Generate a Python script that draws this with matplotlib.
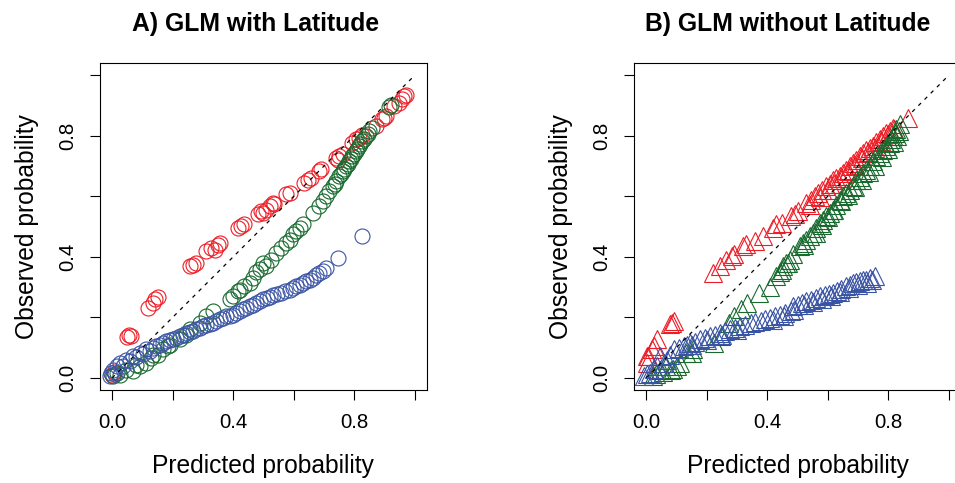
import matplotlib
matplotlib.use('Agg')
import matplotlib.pyplot as plt

params = {'font.family': 'Liberation Sans',
          'axes.linewidth': 0.8,
          'xtick.major.width': 0.8,
          'ytick.major.width': 0.8,
          'xtick.major.size': 7.5,
          'ytick.major.size': 7.5,
          'xtick.labelsize': 14.7,
          'ytick.labelsize': 14.7,
          'axes.labelsize': 17.7,
          'axes.titlesize': 17.8,
          'axes.titleweight': 'bold'}
plt.rcParams.update(params)

# panel A: GLM with latitude (circles)
a_red_x = [0.000, 0.006, 0.050, 0.056, 0.064, 0.119, 0.135, 0.141, 0.152, 0.256, 0.267, 0.278,
           0.311, 0.328, 0.340, 0.349, 0.355, 0.415, 0.426, 0.437, 0.481, 0.492, 0.498, 0.509,
           0.520, 0.531, 0.536, 0.575, 0.586, 0.635, 0.646, 0.657, 0.685, 0.690, 0.740, 0.745,
           0.750, 0.761, 0.794, 0.806, 0.816, 0.827, 0.871, 0.893, 0.899, 0.904, 0.932, 0.948,
           0.959, 0.965, 0.970]
a_red_y = [0.010, 0.020, 0.135, 0.143, 0.137, 0.231, 0.248, 0.259, 0.268, 0.369, 0.374, 0.380,
           0.418, 0.430, 0.424, 0.440, 0.446, 0.496, 0.501, 0.507, 0.540, 0.551, 0.545, 0.556,
           0.567, 0.578, 0.573, 0.606, 0.611, 0.644, 0.655, 0.661, 0.683, 0.691, 0.727, 0.721,
           0.732, 0.738, 0.777, 0.788, 0.793, 0.801, 0.831, 0.854, 0.859, 0.865, 0.898, 0.909,
           0.920, 0.931, 0.936]

a_green_x = [0.003, 0.015, 0.025, 0.047, 0.069, 0.080, 0.092, 0.113, 0.130, 0.135, 0.152, 0.168,
             0.185, 0.190, 0.223, 0.245, 0.256, 0.289, 0.311, 0.333, 0.388, 0.399, 0.415, 0.421,
             0.437, 0.454, 0.465, 0.476, 0.487, 0.498, 0.509, 0.525, 0.542, 0.558, 0.575, 0.586,
             0.597, 0.608, 0.619, 0.630, 0.663, 0.685, 0.695, 0.707, 0.718, 0.728, 0.735, 0.740,
             0.750, 0.755, 0.761, 0.767, 0.773, 0.778, 0.783, 0.790, 0.794, 0.800, 0.806, 0.810,
             0.816, 0.820, 0.827, 0.832, 0.838, 0.844, 0.849, 0.860, 0.915, 0.921]
a_green_y = [0.005, 0.017, 0.011, 0.027, 0.022, 0.044, 0.038, 0.050, 0.066, 0.077, 0.077, 0.094,
             0.104, 0.110, 0.127, 0.143, 0.160, 0.182, 0.204, 0.220, 0.262, 0.270, 0.286, 0.292,
             0.303, 0.314, 0.330, 0.350, 0.360, 0.380, 0.369, 0.391, 0.413, 0.430, 0.446, 0.457,
             0.474, 0.484, 0.496, 0.507, 0.545, 0.567, 0.584, 0.600, 0.617, 0.633, 0.640, 0.650,
             0.666, 0.672, 0.683, 0.690, 0.699, 0.708, 0.716, 0.724, 0.732, 0.740, 0.749, 0.757,
             0.765, 0.772, 0.782, 0.790, 0.798, 0.806, 0.815, 0.826, 0.895, 0.903]

a_blue_x = [-0.008, -0.005, 0.003, 0.008, 0.015, 0.025, 0.036, 0.047, 0.058, 0.069, 0.080, 0.091,
            0.102, 0.113, 0.124, 0.135, 0.146, 0.157, 0.168, 0.179, 0.190, 0.201, 0.212, 0.223,
            0.234, 0.245, 0.256, 0.267, 0.278, 0.289, 0.300, 0.311, 0.322, 0.333, 0.344, 0.355,
            0.366, 0.377, 0.388, 0.399, 0.410, 0.421, 0.432, 0.443, 0.454, 0.465, 0.476, 0.487,
            0.498, 0.510, 0.520, 0.531, 0.545, 0.558, 0.570, 0.586, 0.597, 0.608, 0.619, 0.630,
            0.641, 0.652, 0.663, 0.674, 0.685, 0.695, 0.707, 0.745, 0.827]
a_blue_y = [0.005, 0.017, 0.027, 0.012, 0.038, 0.050, 0.040, 0.060, 0.055, 0.071, 0.068, 0.083,
            0.080, 0.094, 0.090, 0.099, 0.105, 0.110, 0.116, 0.121, 0.124, 0.127, 0.132, 0.137,
            0.143, 0.149, 0.150, 0.154, 0.160, 0.165, 0.170, 0.176, 0.178, 0.182, 0.188, 0.193,
            0.198, 0.204, 0.206, 0.209, 0.215, 0.220, 0.226, 0.231, 0.236, 0.242, 0.248, 0.253,
            0.259, 0.264, 0.268, 0.275, 0.278, 0.281, 0.287, 0.292, 0.297, 0.303, 0.308, 0.314,
            0.319, 0.325, 0.330, 0.341, 0.346, 0.352, 0.363, 0.397, 0.468]

# panel B: GLM without latitude (triangles)
b_red_x = [0.003, 0.004, 0.007, 0.018, 0.025, 0.036, 0.078, 0.084, 0.092, 0.221, 0.243, 0.265,
           0.282, 0.320, 0.331, 0.386, 0.419, 0.430, 0.480, 0.491, 0.529, 0.546, 0.557, 0.568,
           0.580, 0.595, 0.606, 0.617, 0.628, 0.639, 0.650, 0.661, 0.672, 0.683, 0.694, 0.705,
           0.716, 0.727, 0.738, 0.749, 0.760, 0.771, 0.782, 0.793, 0.815, 0.866,
           0.540, 0.575, 0.600, 0.622, 0.645, 0.668, 0.690, 0.712, 0.733, 0.755, 0.777, 0.800,
           0.805, 0.820, 0.360, 0.290, 0.450, 0.500]
b_red_y = [0.071, 0.050, 0.071, 0.094, 0.104, 0.127, 0.177, 0.182, 0.188, 0.347, 0.369, 0.391,
           0.402, 0.435, 0.441, 0.468, 0.496, 0.507, 0.534, 0.540, 0.578, 0.589, 0.600, 0.611,
           0.620, 0.633, 0.640, 0.655, 0.660, 0.666, 0.678, 0.688, 0.700, 0.711, 0.720, 0.732,
           0.742, 0.754, 0.760, 0.765, 0.778, 0.788, 0.800, 0.810, 0.826, 0.857,
           0.572, 0.598, 0.622, 0.640, 0.660, 0.684, 0.704, 0.725, 0.745, 0.760, 0.782, 0.805,
           0.815, 0.822, 0.452, 0.408, 0.512, 0.552]

b_green_x = [0.023, 0.034, 0.045, 0.056, 0.067, 0.081, 0.089, 0.102, 0.111, 0.133, 0.152, 0.155,
             0.223, 0.246, 0.273, 0.289, 0.312, 0.333, 0.372, 0.410, 0.430, 0.441, 0.452, 0.463,
             0.474, 0.485, 0.507, 0.518, 0.529, 0.540, 0.551, 0.562, 0.573, 0.584, 0.595, 0.606,
             0.617, 0.628, 0.639, 0.650, 0.661, 0.672, 0.683, 0.694, 0.705, 0.716, 0.727, 0.738,
             0.749, 0.760, 0.771, 0.782, 0.793, 0.804, 0.810, 0.815, 0.821, 0.826, 0.837,
             0.600, 0.622, 0.645, 0.667, 0.690, 0.712, 0.735, 0.756, 0.778, 0.800, 0.818, 0.830,
             0.835, 0.580, 0.560, 0.520, 0.470, 0.450]
b_green_y = [0.005, 0.012, 0.027, 0.020, 0.038, 0.027, 0.030, 0.038, 0.050, 0.083, 0.083, 0.094,
             0.116, 0.137, 0.182, 0.204, 0.226, 0.248, 0.281, 0.300, 0.336, 0.350, 0.369, 0.380,
             0.391, 0.410, 0.435, 0.445, 0.457, 0.470, 0.479, 0.495, 0.512, 0.522, 0.534, 0.545,
             0.556, 0.572, 0.589, 0.600, 0.611, 0.622, 0.633, 0.655, 0.665, 0.677, 0.688, 0.699,
             0.715, 0.732, 0.743, 0.754, 0.765, 0.777, 0.788, 0.798, 0.810, 0.821, 0.837,
             0.530, 0.555, 0.585, 0.605, 0.630, 0.655, 0.680, 0.700, 0.730, 0.755, 0.780, 0.800,
             0.815, 0.505, 0.480, 0.440, 0.380, 0.355]

b_blue_x = [-0.008, 0.003, 0.014, 0.025, 0.036, 0.047, 0.058, 0.069, 0.080, 0.091, 0.108, 0.124,
            0.135, 0.146, 0.162, 0.179, 0.195, 0.212, 0.228, 0.245, 0.262, 0.278, 0.295, 0.311,
            0.328, 0.345, 0.361, 0.378, 0.394, 0.410, 0.427, 0.443, 0.460, 0.477, 0.485, 0.500,
            0.515, 0.529, 0.545, 0.560, 0.573, 0.590, 0.605, 0.617, 0.630, 0.645, 0.661, 0.672,
            0.683, 0.694, 0.705, 0.716, 0.727, 0.738, 0.755,
            0.420, 0.455, 0.490, 0.520, 0.550, 0.580, 0.610, 0.640, 0.670, 0.700, 0.730, 0.745,
            0.300, 0.250, 0.200, 0.150]
b_blue_y = [0.005, 0.012, 0.017, 0.030, 0.038, 0.071, 0.050, 0.060, 0.075, 0.094, 0.098, 0.104,
            0.110, 0.116, 0.120, 0.127, 0.132, 0.137, 0.143, 0.149, 0.154, 0.160, 0.165, 0.171,
            0.176, 0.182, 0.184, 0.187, 0.193, 0.198, 0.204, 0.209, 0.215, 0.220, 0.237, 0.240,
            0.246, 0.253, 0.258, 0.264, 0.270, 0.274, 0.278, 0.281, 0.288, 0.295, 0.303, 0.308,
            0.314, 0.316, 0.319, 0.322, 0.325, 0.330, 0.336,
            0.192, 0.205, 0.225, 0.240, 0.252, 0.262, 0.272, 0.285, 0.298, 0.308, 0.315, 0.322,
            0.158, 0.142, 0.125, 0.108]

titles = ['A) GLM with Latitude', 'B) GLM without Latitude']
title_x = [0.476, 0.470]
ticks = [0.0, 0.2, 0.4, 0.6, 0.8, 1.0]
tick_labels = ['0.0', '', '0.4', '', '0.8', '']

red = '#EE1C25'
green = '#17692E'
blue = '#3A54A4'

fig = plt.figure(figsize=(9.55, 4.83), dpi=100)
ax1 = fig.add_axes([0.1047, 0.1925, 0.3424, 0.677])
ax2 = fig.add_axes([0.6639, 0.1925, 0.3424, 0.677])
ax = [ax1, ax2]

ms_c = 10.8
ms_t = 12.8
ax1.plot(a_red_x, a_red_y, 'o', ms=ms_c, mfc='none', mec=red, mew=0.8)
ax1.plot(a_green_x, a_green_y, 'o', ms=ms_c, mfc='none', mec=green, mew=0.8)
ax1.plot(a_blue_x, a_blue_y, 'o', ms=ms_c, mfc='none', mec=blue, mew=0.8)

ax2.plot(b_red_x, b_red_y, '^', ms=ms_t, mfc='none', mec=red, mew=0.8)
ax2.plot(b_green_x, b_green_y, '^', ms=ms_t, mfc='none', mec=green, mew=0.8)
ax2.plot(b_blue_x, b_blue_y, '^', ms=ms_t, mfc='none', mec=blue, mew=0.8)

for i, a in enumerate(ax):
    a.plot([0, 1], [0, 1], color='black', ls=(0, (3, 4)), lw=0.9)
    a.set_xlim(-0.04, 1.04)
    a.set_ylim(-0.04, 1.04)
    a.set_xticks(ticks)
    a.set_xticklabels(tick_labels)
    a.set_yticks(ticks)
    a.set_yticklabels(tick_labels, rotation=90, va='center')
    a.tick_params(axis='x', pad=9)
    a.tick_params(axis='y', pad=9)
    a.set_xlabel('Predicted probability', labelpad=16)
    a.set_ylabel('Observed probability', labelpad=14)
    a.set_title(titles[i], pad=23, x=title_x[i])

fig.savefig('out.png', dpi=100)
